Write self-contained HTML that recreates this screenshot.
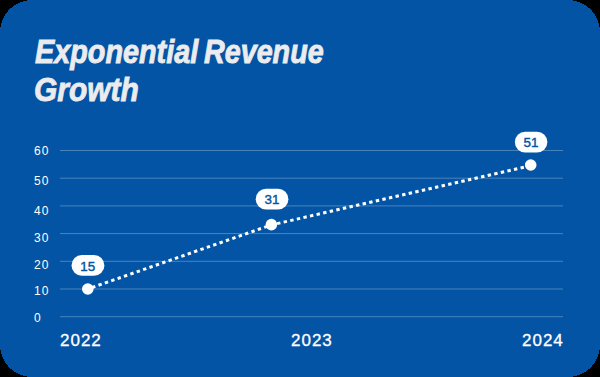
<!DOCTYPE html>
<html><head><meta charset="utf-8">
<style>
html,body{margin:0;padding:0;width:600px;height:377px;overflow:hidden;background:#000;}
.card{position:absolute;left:0;top:0;width:600px;height:377px;overflow:hidden;font-family:"Liberation Sans",sans-serif;}
.t{position:absolute;left:35px;color:#ececef;font-weight:bold;font-style:italic;font-size:34px;line-height:38px;white-space:nowrap;transform-origin:0 0;-webkit-text-stroke:0.9px #ececef;}
.yl{position:absolute;left:34px;color:#fff;font-size:12px;line-height:14px;letter-spacing:1px;}
.xl{position:absolute;top:329px;color:#fff;font-size:17px;line-height:24px;letter-spacing:1px;-webkit-text-stroke:0.3px #fff;}
svg{position:absolute;left:0;top:0;}
</style></head><body>
<div class="card">
<svg width="600" height="377" viewBox="0 0 600 377" shape-rendering="crispEdges"><rect x="0" y="0" width="600" height="377" rx="32" fill="#0354a4"/></svg>
<div class="t" style="top:31px;transform:translateY(0.6px) scaleX(0.847)">Exponential</div>
<div class="t" style="top:31px;left:204px;transform:translateY(0.6px) scaleX(0.844)">Revenue</div>
<div class="t" style="top:69px;left:34px;transform:translateY(0.8px) scaleX(0.88)">Growth</div>
<svg width="600" height="377" viewBox="0 0 600 377">
<g stroke="rgba(255,255,255,0.28)" stroke-width="1">
<line x1="60" x2="563" y1="150.5" y2="150.5"/>
<line x1="60" x2="563" y1="178.2" y2="178.2"/>
<line x1="60" x2="563" y1="205.9" y2="205.9"/>
<line x1="60" x2="563" y1="233.6" y2="233.6"/>
<line x1="60" x2="563" y1="261.3" y2="261.3"/>
<line x1="60" x2="563" y1="289" y2="289"/>
<line x1="60" x2="563" y1="316.7" y2="316.7"/>
</g>
<path d="M87.8 289 L271.4 224.9 L530.7 165.7" fill="none" stroke="#fff" stroke-width="3" stroke-dasharray="3.4 3.35" stroke-dashoffset="2.2"/>
<g fill="#fff">
<circle cx="87.8" cy="289" r="5.8"/>
<circle cx="271.4" cy="224.6" r="5.8"/>
<circle cx="530.7" cy="165" r="5.8"/>
<rect x="71.5" y="255" width="32.9" height="20.8" rx="10.4"/>
<rect x="255.7" y="188.8" width="32.7" height="20.7" rx="10.35"/>
<rect x="514.8" y="131.7" width="32.6" height="20.8" rx="10.4"/>
</g>
<g fill="#0354a4" stroke="#0354a4" stroke-width="0.4" font-family="Liberation Sans" font-size="13.4" text-anchor="middle">
<text x="87.8" y="270.5">15</text>
<text x="271.9" y="204.2">31</text>
<text x="531" y="147.1">51</text>
</g>
</svg>
<div class="yl" style="top:144px">60</div>
<div class="yl" style="top:174px">50</div>
<div class="yl" style="top:204px">40</div>
<div class="yl" style="top:231px">30</div>
<div class="yl" style="top:258px">20</div>
<div class="yl" style="top:284px">10</div>
<div class="yl" style="top:311px">0</div>
<div class="xl" style="left:60px">2022</div>
<div class="xl" style="left:291px">2023</div>
<div class="xl" style="left:522px">2024</div>
</div>
</body></html>
